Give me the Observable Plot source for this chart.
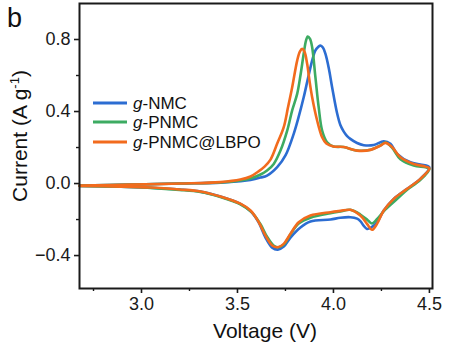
<!DOCTYPE html>
<html><head><meta charset="utf-8">
<script src="https://cdn.jsdelivr.net/npm/d3@7"></script>
<script src="https://cdn.jsdelivr.net/npm/@observablehq/plot@0.6"></script>
<style>
html,body{margin:0;padding:0;background:#fff;}
#chart{width:457px;height:355px;}
</style></head><body><div id="chart"></div>
<script>
// Series (legend order) and colours
const seriesNames = ["g-NMC", "g-PNMC", "g-PNMC@LBPO"];
const seriesColors = ["#2c6dd2", "#3dab62", "#f26b1d"];

// Axis ticks
const xTicks = [3.0, 3.5, 4.0, 4.5];
const xMinorTicks = [2.75, 3.25, 3.75, 4.25];
const yTicks = [-0.4, 0.0, 0.4, 0.8];
const yMinorTicks = [-0.2, 0.2, 0.6];

// g-NMC: anodic sweep (2.68 -> 4.5 V) then cathodic sweep (4.5 -> 2.68 V)
const nmcV = [2.677, 2.943, 3.203, 3.411, 3.515, 3.568, 3.620, 3.654, 3.707, 3.750, 3.793, 3.818, 3.845, 3.867, 3.889, 3.906, 3.923, 3.932, 3.945, 3.958, 3.976, 3.993, 4.019, 4.036, 4.053, 4.070, 4.088, 4.123, 4.158, 4.210, 4.262, 4.297, 4.332, 4.401, 4.453, 4.500,
  4.453, 4.384, 4.314, 4.262, 4.227, 4.195, 4.175, 4.158, 4.140, 4.123, 4.088, 4.036, 3.984, 3.880, 3.828, 3.776, 3.741, 3.710, 3.681, 3.646, 3.611, 3.568, 3.515, 3.411, 3.307, 3.198, 3.047, 2.891, 2.677];
const nmcI = [-0.011, -0.006, 0.0, 0.005, 0.013, 0.02, 0.033, 0.044, 0.091, 0.156, 0.276, 0.367, 0.479, 0.583, 0.683, 0.739, 0.761, 0.767, 0.756, 0.721, 0.639, 0.535, 0.39, 0.325, 0.29, 0.265, 0.248, 0.225, 0.213, 0.214, 0.235, 0.221, 0.165, 0.118, 0.106, 0.09,
  0.026, -0.029, -0.085, -0.15, -0.215, -0.245, -0.252, -0.235, -0.209, -0.195, -0.187, -0.19, -0.2, -0.211, -0.244, -0.3, -0.35, -0.367, -0.356, -0.3, -0.217, -0.153, -0.113, -0.072, -0.045, -0.033, -0.023, -0.017, -0.014];

// g-PNMC
const pnmcV = [2.677, 2.943, 3.203, 3.411, 3.515, 3.568, 3.620, 3.654, 3.689, 3.724, 3.759, 3.785, 3.811, 3.828, 3.845, 3.857, 3.866, 3.878, 3.889, 3.906, 3.923, 3.941, 3.967, 4.000, 4.053, 4.123, 4.193, 4.245, 4.271, 4.306, 4.349, 4.418, 4.480, 4.500,
  4.453, 4.384, 4.332, 4.270, 4.225, 4.201, 4.180, 4.140, 4.088, 4.036, 3.984, 3.880, 3.819, 3.776, 3.745, 3.716, 3.690, 3.655, 3.620, 3.575, 3.515, 3.411, 3.307, 3.198, 3.047, 2.891, 2.677];
const pnmcI = [-0.011, -0.006, 0.0, 0.006, 0.017, 0.028, 0.05, 0.072, 0.109, 0.183, 0.294, 0.406, 0.498, 0.6, 0.721, 0.794, 0.817, 0.803, 0.757, 0.591, 0.424, 0.294, 0.229, 0.206, 0.203, 0.183, 0.188, 0.212, 0.228, 0.198, 0.135, 0.1, 0.09, 0.082,
  0.02, -0.035, -0.085, -0.145, -0.2, -0.222, -0.205, -0.172, -0.146, -0.155, -0.165, -0.19, -0.222, -0.282, -0.335, -0.354, -0.346, -0.297, -0.226, -0.16, -0.115, -0.075, -0.047, -0.035, -0.024, -0.018, -0.014];

// g-PNMC@LBPO
const lbpoV = [2.677, 2.943, 3.203, 3.411, 3.515, 3.568, 3.609, 3.641, 3.672, 3.707, 3.741, 3.763, 3.785, 3.811, 3.825, 3.837, 3.849, 3.863, 3.875, 3.889, 3.915, 3.941, 3.963, 4.000, 4.053, 4.123, 4.193, 4.245, 4.271, 4.306, 4.349, 4.418, 4.480, 4.500,
  4.453, 4.384, 4.314, 4.262, 4.227, 4.201, 4.175, 4.140, 4.088, 4.036, 3.984, 3.880, 3.819, 3.776, 3.741, 3.710, 3.681, 3.646, 3.611, 3.568, 3.515, 3.411, 3.307, 3.198, 3.047, 2.891, 2.677];
const lbpoI = [-0.011, -0.006, 0.0, 0.008, 0.022, 0.039, 0.067, 0.094, 0.133, 0.222, 0.313, 0.422, 0.535, 0.683, 0.733, 0.748, 0.733, 0.665, 0.572, 0.479, 0.35, 0.257, 0.222, 0.206, 0.203, 0.183, 0.187, 0.211, 0.226, 0.202, 0.146, 0.109, 0.094, 0.085,
  0.026, -0.029, -0.085, -0.15, -0.224, -0.257, -0.224, -0.178, -0.146, -0.152, -0.159, -0.178, -0.215, -0.279, -0.335, -0.354, -0.344, -0.289, -0.215, -0.15, -0.112, -0.072, -0.044, -0.033, -0.022, -0.017, -0.014];

const rows = [];
[[nmcV, nmcI], [pnmcV, pnmcI], [lbpoV, lbpoI]].forEach(([V, I], k) =>
  V.forEach((v, j) => rows.push({series: seriesNames[k], v, i: I[j]})));

const FONT = "'Liberation Sans', Arial, Helvetica, sans-serif";
const fmt = d3.format(".1f");

const plot = Plot.plot({
  width: 457, height: 355,
  marginLeft: 79, marginRight: 25, marginTop: 3, marginBottom: 67,
  style: {fontFamily: FONT, fontSize: "18px", color: "#1a1a1a", background: "#fff"},
  x: {domain: [2.677, 4.516]},
  y: {domain: [-0.583, 1.0]},
  color: {domain: seriesNames, range: seriesColors},
  marks: [
    Plot.axisX({ticks: xTicks, tickSize: 5, tickPadding: 4, tickFormat: fmt, label: null, strokeWidth: 1.6}),
    Plot.axisX({ticks: xMinorTicks, tickSize: 3, tickFormat: () => "", label: null, strokeWidth: 1.4}),
    Plot.axisY({ticks: yTicks, tickSize: 5, tickPadding: 4, tickFormat: fmt, label: null, strokeWidth: 1.6}),
    Plot.axisY({ticks: yMinorTicks, tickSize: 3, tickFormat: () => "", label: null, strokeWidth: 1.4}),
    Plot.line(rows, {x: "v", y: "i", z: "series", stroke: "series", strokeWidth: 2.6, curve: "catmull-rom", sort: null}),
    Plot.frame({stroke: "#1a1a1a", strokeWidth: 2})
  ]
});
document.getElementById("chart").appendChild(plot);

// Annotations: panel letter, axis titles and the legend
const svg = d3.select(plot);
svg.append("text").attr("x", 7).attr("y", 27).attr("text-anchor", "start").attr("font-size", 27)
  .attr("font-family", FONT).attr("fill", "#111").text("b");

svg.append("text").attr("x", 265).attr("y", 338).attr("text-anchor", "middle")
  .attr("font-size", 21).attr("font-family", FONT).attr("fill", "#111").text("Voltage (V)");

const yl = svg.append("text").attr("transform", "translate(27,136) rotate(-90)").attr("text-anchor", "middle")
  .attr("font-size", 21).attr("font-family", FONT).attr("fill", "#111");
yl.append("tspan").text("Current (A g");
yl.append("tspan").attr("font-size", 13).attr("dy", -8).text("-1");
yl.append("tspan").attr("dy", 8).text(")");

const legendY = [103, 122, 142];
seriesNames.forEach((name, k) => {
  svg.append("line").attr("x1", 93).attr("x2", 127).attr("y1", legendY[k]).attr("y2", legendY[k])
    .attr("stroke", seriesColors[k]).attr("stroke-width", 2.8);
  const t = svg.append("text").attr("x", 133).attr("y", legendY[k] + 6).attr("text-anchor", "start")
    .attr("font-size", 17).attr("font-family", FONT).attr("fill", "#111");
  t.append("tspan").attr("font-style", "italic").text(name.slice(0, 1));
  t.append("tspan").text(name.slice(1));
});
</script>
</body></html>
